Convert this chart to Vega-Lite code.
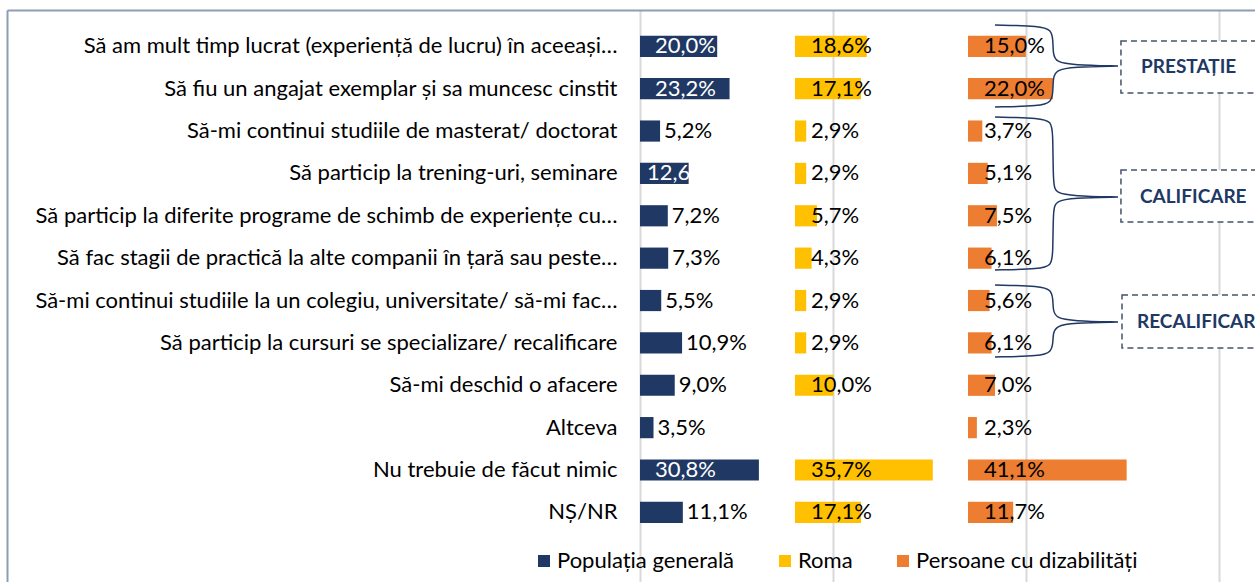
{
  "$schema": "https://vega.github.io/schema/vega-lite/v6.json",
  "width": 1248,
  "height": 519,
  "padding": {"left": 7, "top": 26, "right": 0, "bottom": 37},
  "autosize": {"type": "none"},
  "background": "white",
  "config": {
    "view": {"stroke": null},
    "text": {"font": "Lato"},
    "axis": {"labelFont": "Lato"},
    "legend": {"labelFont": "Lato"}
  },
  "datasets": {
    "main": [
      {"cat": "Să am mult timp lucrat (experiență de lucru) în aceeași…", "grp": "Populația generală", "v": 20.0, "lab": "20,0%"},
      {"cat": "Să am mult timp lucrat (experiență de lucru) în aceeași…", "grp": "Roma", "v": 18.6, "lab": "18,6%"},
      {"cat": "Să am mult timp lucrat (experiență de lucru) în aceeași…", "grp": "Persoane cu dizabilități", "v": 15.0, "lab": "15,0%"},
      {"cat": "Să fiu un angajat exemplar și sa muncesc cinstit", "grp": "Populația generală", "v": 23.2, "lab": "23,2%"},
      {"cat": "Să fiu un angajat exemplar și sa muncesc cinstit", "grp": "Roma", "v": 17.1, "lab": "17,1%"},
      {"cat": "Să fiu un angajat exemplar și sa muncesc cinstit", "grp": "Persoane cu dizabilități", "v": 22.0, "lab": "22,0%"},
      {"cat": "Să-mi continui studiile de masterat/ doctorat", "grp": "Populația generală", "v": 5.2, "lab": "5,2%"},
      {"cat": "Să-mi continui studiile de masterat/ doctorat", "grp": "Roma", "v": 2.9, "lab": "2,9%"},
      {"cat": "Să-mi continui studiile de masterat/ doctorat", "grp": "Persoane cu dizabilități", "v": 3.7, "lab": "3,7%"},
      {"cat": "Să particip la trening-uri, seminare", "grp": "Populația generală", "v": 12.6, "lab": "12,6"},
      {"cat": "Să particip la trening-uri, seminare", "grp": "Roma", "v": 2.9, "lab": "2,9%"},
      {"cat": "Să particip la trening-uri, seminare", "grp": "Persoane cu dizabilități", "v": 5.1, "lab": "5,1%"},
      {"cat": "Să particip la diferite programe de schimb de experiențe cu…", "grp": "Populația generală", "v": 7.2, "lab": "7,2%"},
      {"cat": "Să particip la diferite programe de schimb de experiențe cu…", "grp": "Roma", "v": 5.7, "lab": "5,7%"},
      {"cat": "Să particip la diferite programe de schimb de experiențe cu…", "grp": "Persoane cu dizabilități", "v": 7.5, "lab": "7,5%"},
      {"cat": "Să fac stagii de practică la alte companii în țară sau peste…", "grp": "Populația generală", "v": 7.3, "lab": "7,3%"},
      {"cat": "Să fac stagii de practică la alte companii în țară sau peste…", "grp": "Roma", "v": 4.3, "lab": "4,3%"},
      {"cat": "Să fac stagii de practică la alte companii în țară sau peste…", "grp": "Persoane cu dizabilități", "v": 6.1, "lab": "6,1%"},
      {"cat": "Să-mi continui studiile la un colegiu, universitate/ să-mi fac…", "grp": "Populația generală", "v": 5.5, "lab": "5,5%"},
      {"cat": "Să-mi continui studiile la un colegiu, universitate/ să-mi fac…", "grp": "Roma", "v": 2.9, "lab": "2,9%"},
      {"cat": "Să-mi continui studiile la un colegiu, universitate/ să-mi fac…", "grp": "Persoane cu dizabilități", "v": 5.6, "lab": "5,6%"},
      {"cat": "Să particip la cursuri se specializare/ recalificare", "grp": "Populația generală", "v": 10.9, "lab": "10,9%"},
      {"cat": "Să particip la cursuri se specializare/ recalificare", "grp": "Roma", "v": 2.9, "lab": "2,9%"},
      {"cat": "Să particip la cursuri se specializare/ recalificare", "grp": "Persoane cu dizabilități", "v": 6.1, "lab": "6,1%"},
      {"cat": "Să-mi deschid o afacere", "grp": "Populația generală", "v": 9.0, "lab": "9,0%"},
      {"cat": "Să-mi deschid o afacere", "grp": "Roma", "v": 10.0, "lab": "10,0%"},
      {"cat": "Să-mi deschid o afacere", "grp": "Persoane cu dizabilități", "v": 7.0, "lab": "7,0%"},
      {"cat": "Altceva", "grp": "Populația generală", "v": 3.5, "lab": "3,5%"},
      {"cat": "Altceva", "grp": "Persoane cu dizabilități", "v": 2.3, "lab": "2,3%"},
      {"cat": "Nu trebuie de făcut nimic", "grp": "Populația generală", "v": 30.8, "lab": "30,8%"},
      {"cat": "Nu trebuie de făcut nimic", "grp": "Roma", "v": 35.7, "lab": "35,7%"},
      {"cat": "Nu trebuie de făcut nimic", "grp": "Persoane cu dizabilități", "v": 41.1, "lab": "41,1%"},
      {"cat": "NȘ/NR", "grp": "Populația generală", "v": 11.1, "lab": "11,1%"},
      {"cat": "NȘ/NR", "grp": "Roma", "v": 17.1, "lab": "17,1%"},
      {"cat": "NȘ/NR", "grp": "Persoane cu dizabilități", "v": 11.7, "lab": "11,7%"}
    ],
    "braces": [
      {"b": 1, "i": 1, "x": 91.97, "y": -0.536},
      {"b": 1, "i": 2, "x": 103.89, "y": -0.512},
      {"b": 1, "i": 3, "x": 106.48, "y": -0.417},
      {"b": 1, "i": 4, "x": 107.0, "y": -0.202},
      {"b": 1, "i": 5, "x": 107.0, "y": 0.155},
      {"b": 1, "i": 6, "x": 107.77, "y": 0.345},
      {"b": 1, "i": 7, "x": 112.18, "y": 0.417},
      {"b": 1, "i": 8, "x": 123.83, "y": 0.44},
      {"b": 1, "i": 9, "x": 123.83, "y": 0.44},
      {"b": 1, "i": 10, "x": 123.83, "y": 0.44},
      {"b": 1, "i": 11, "x": 112.18, "y": 0.464},
      {"b": 1, "i": 12, "x": 107.77, "y": 0.536},
      {"b": 1, "i": 13, "x": 107.0, "y": 0.726},
      {"b": 1, "i": 14, "x": 107.0, "y": 1.083},
      {"b": 1, "i": 15, "x": 106.48, "y": 1.298},
      {"b": 1, "i": 16, "x": 103.89, "y": 1.393},
      {"b": 1, "i": 17, "x": 91.97, "y": 1.417},
      {"b": 2, "i": 1, "x": 91.97, "y": 1.655},
      {"b": 2, "i": 2, "x": 103.89, "y": 1.679},
      {"b": 2, "i": 3, "x": 106.48, "y": 1.774},
      {"b": 2, "i": 4, "x": 107.0, "y": 1.988},
      {"b": 2, "i": 5, "x": 107.0, "y": 3.274},
      {"b": 2, "i": 6, "x": 107.77, "y": 3.464},
      {"b": 2, "i": 7, "x": 112.18, "y": 3.536},
      {"b": 2, "i": 8, "x": 123.83, "y": 3.56},
      {"b": 2, "i": 9, "x": 123.83, "y": 3.56},
      {"b": 2, "i": 10, "x": 123.83, "y": 3.56},
      {"b": 2, "i": 11, "x": 112.18, "y": 3.583},
      {"b": 2, "i": 12, "x": 107.77, "y": 3.655},
      {"b": 2, "i": 13, "x": 107.0, "y": 3.845},
      {"b": 2, "i": 14, "x": 107.0, "y": 4.964},
      {"b": 2, "i": 15, "x": 106.48, "y": 5.179},
      {"b": 2, "i": 16, "x": 103.89, "y": 5.274},
      {"b": 2, "i": 17, "x": 91.97, "y": 5.298},
      {"b": 3, "i": 1, "x": 91.97, "y": 5.655},
      {"b": 3, "i": 2, "x": 103.89, "y": 5.679},
      {"b": 3, "i": 3, "x": 106.48, "y": 5.774},
      {"b": 3, "i": 4, "x": 107.0, "y": 5.988},
      {"b": 3, "i": 5, "x": 107.0, "y": 6.25},
      {"b": 3, "i": 6, "x": 107.77, "y": 6.44},
      {"b": 3, "i": 7, "x": 112.18, "y": 6.512},
      {"b": 3, "i": 8, "x": 123.83, "y": 6.536},
      {"b": 3, "i": 9, "x": 123.83, "y": 6.536},
      {"b": 3, "i": 10, "x": 123.83, "y": 6.536},
      {"b": 3, "i": 11, "x": 112.18, "y": 6.56},
      {"b": 3, "i": 12, "x": 107.77, "y": 6.631},
      {"b": 3, "i": 13, "x": 107.0, "y": 6.821},
      {"b": 3, "i": 14, "x": 107.0, "y": 7.036},
      {"b": 3, "i": 15, "x": 106.48, "y": 7.25},
      {"b": 3, "i": 16, "x": 103.89, "y": 7.345},
      {"b": 3, "i": 17, "x": 91.97, "y": 7.369}
    ],
    "boxes": [
      {"x1": 124.6, "x2": 170, "y1": -0.155, "y2": 1.083},
      {"x1": 124.6, "x2": 170, "y1": 2.917, "y2": 4.155},
      {"x1": 124.87, "x2": 170, "y1": 5.893, "y2": 7.155}
    ],
    "notes": [
      {"t": "PRESTAȚIE", "x": 129.79, "y": 0.464},
      {"t": "CALIFICARE", "x": 129.53, "y": 3.56},
      {"t": "RECALIFICARE", "x": 128.76, "y": 6.536}
    ]
  },
  "resolve": {"scale": {"x": "independent", "y": "independent"}},
  "layer": [
    {
      "data": {"name": "main"},
      "resolve": {"scale": {"x": "independent"}},
      "encoding": {
        "y": {
          "field": "cat", "type": "nominal",
          "scale": {
            "domain": ["Să am mult timp lucrat (experiență de lucru) în aceeași…", "Să fiu un angajat exemplar și sa muncesc cinstit", "Să-mi continui studiile de masterat/ doctorat", "Să particip la trening-uri, seminare", "Să particip la diferite programe de schimb de experiențe cu…", "Să fac stagii de practică la alte companii în țară sau peste…", "Să-mi continui studiile la un colegiu, universitate/ să-mi fac…", "Să particip la cursuri se specializare/ recalificare", "Să-mi deschid o afacere", "Altceva", "Nu trebuie de făcut nimic", "NȘ/NR"],
            "range": [-16, 556], "paddingInner": 0.5, "paddingOuter": 1.0595, "align": 0.3034
          },
          "axis": {
            "orient": "left", "title": null, "ticks": false, "tickSize": 0, "labelPadding": -610,
            "labelAlign": "right", "labelBaseline": "middle", "labelLimit": 1000,
            "labelFont": "Lato", "labelFontSize": 22, "labelColor": "#000000",
            "domain": true, "domainColor": "#8E9DB3", "domainWidth": 2, "grid": false
          }
        }
      },
      "layer": [
        {
          "transform": [{"filter": {"field": "grp", "equal": "Populația generală"}}],
          "mark": {"type": "bar"},
          "encoding": {
            "x": {"field": "v", "type": "quantitative", "stack": null,
              "scale": {"domain": [-163.99, 159.326], "zero": false, "nice": false},
              "axis": {"orient": "top", "offset": 16, "values": [0, 50, 100, 150], "labels": false, "ticks": false, "title": null,
                "grid": true, "gridColor": "#D9D9D9", "gridWidth": 2, "domain": true, "domainColor": "#8E9DB3", "domainWidth": 2}},
            "x2": {"datum": 0},
            "color": {"field": "grp", "type": "nominal",
              "scale": {"domain": ["Populația generală", "Roma", "Persoane cu dizabilități"], "range": ["#203864", "#FFC000", "#ED7D31"]},
              "legend": {"orient": "none", "legendX": 526, "legendY": 524, "direction": "horizontal", "title": null,
                "symbolType": "square", "symbolSize": 144, "symbolStrokeWidth": 0, "labelFont": "Lato", "labelFontSize": 22,
                "labelColor": "#000000", "columnPadding": 39, "labelOffset": 2, "labelLimit": 400}}
          }
        },
        {
          "transform": [{"filter": {"and": [{"field": "grp", "equal": "Populația generală"}, {"field": "v", "gte": 15}]}}],
          "mark": {"type": "text", "align": "left", "baseline": "middle", "dx": 15, "fill": "#FFFFFF", "fontSize": 22, "font": "Lato"},
          "encoding": {
            "x": {"datum": 0, "type": "quantitative", "scale": {"domain": [-163.99, 159.326], "zero": false, "nice": false}, "axis": null},
            "text": {"field": "lab"}
          }
        },
        {
          "transform": [{"filter": {"and": [{"field": "grp", "equal": "Populația generală"}, {"field": "v", "range": [12, 15]}]}}],
          "mark": {"type": "text", "align": "left", "baseline": "middle", "dx": 7, "fill": "#FFFFFF", "fontSize": 22, "font": "Lato"},
          "encoding": {
            "x": {"datum": 0, "type": "quantitative", "scale": {"domain": [-163.99, 159.326], "zero": false, "nice": false}, "axis": null},
            "text": {"field": "lab"}
          }
        },
        {
          "transform": [{"filter": {"and": [{"field": "grp", "equal": "Populația generală"}, {"field": "v", "lt": 12}]}}],
          "mark": {"type": "text", "align": "left", "baseline": "middle", "dx": 4, "fill": "#000000", "fontSize": 22, "font": "Lato"},
          "encoding": {
            "x": {"field": "v", "type": "quantitative", "scale": {"domain": [-163.99, 159.326], "zero": false, "nice": false}, "axis": null},
            "text": {"field": "lab"}
          }
        },
        {
          "transform": [{"filter": {"field": "grp", "equal": "Roma"}}],
          "mark": {"type": "bar"},
          "encoding": {
            "x": {"field": "v", "type": "quantitative", "stack": null,
              "scale": {"domain": [-204.145, 119.171], "zero": false, "nice": false}, "axis": null},
            "x2": {"datum": 0},
            "color": {"field": "grp", "type": "nominal",
              "scale": {"domain": ["Populația generală", "Roma", "Persoane cu dizabilități"], "range": ["#203864", "#FFC000", "#ED7D31"]},
              "legend": {"orient": "none", "legendX": 526, "legendY": 524, "direction": "horizontal", "title": null,
                "symbolType": "square", "symbolSize": 144, "symbolStrokeWidth": 0, "labelFont": "Lato", "labelFontSize": 22,
                "labelColor": "#000000", "columnPadding": 39, "labelOffset": 2, "labelLimit": 400}}
          }
        },
        {
          "transform": [{"filter": {"field": "grp", "equal": "Roma"}}],
          "mark": {"type": "text", "align": "left", "baseline": "middle", "dx": 16, "fill": "#000000", "fontSize": 22, "font": "Lato"},
          "encoding": {
            "x": {"datum": 0, "type": "quantitative", "scale": {"domain": [-204.145, 119.171], "zero": false, "nice": false}, "axis": null},
            "text": {"field": "lab"}
          }
        },
        {
          "transform": [{"filter": {"field": "grp", "equal": "Persoane cu dizabilități"}}],
          "mark": {"type": "bar"},
          "encoding": {
            "x": {"field": "v", "type": "quantitative", "stack": null,
              "scale": {"domain": [-248.964, 74.352], "zero": false, "nice": false}, "axis": null},
            "x2": {"datum": 0},
            "color": {"field": "grp", "type": "nominal",
              "scale": {"domain": ["Populația generală", "Roma", "Persoane cu dizabilități"], "range": ["#203864", "#FFC000", "#ED7D31"]},
              "legend": {"orient": "none", "legendX": 526, "legendY": 524, "direction": "horizontal", "title": null,
                "symbolType": "square", "symbolSize": 144, "symbolStrokeWidth": 0, "labelFont": "Lato", "labelFontSize": 22,
                "labelColor": "#000000", "columnPadding": 39, "labelOffset": 2, "labelLimit": 400}}
          }
        },
        {
          "transform": [{"filter": {"field": "grp", "equal": "Persoane cu dizabilități"}}],
          "mark": {"type": "text", "align": "left", "baseline": "middle", "dx": 16, "fill": "#000000", "fontSize": 22, "font": "Lato"},
          "encoding": {
            "x": {"datum": 0, "type": "quantitative", "scale": {"domain": [-248.964, 74.352], "zero": false, "nice": false}, "axis": null},
            "text": {"field": "lab"}
          }
        }
      ]
    },
    {
      "layer": [
        {
          "data": {"name": "boxes"},
          "mark": {"type": "rect", "fill": "#FFFFFF", "stroke": "#44546A", "strokeWidth": 1.5, "strokeDash": [6, 4]},
          "encoding": {
            "x": {"field": "x1", "type": "quantitative", "scale": {"domain": [-163.99, 159.326], "zero": false, "nice": false}, "axis": null},
            "x2": {"field": "x2"},
            "y": {"field": "y1", "type": "quantitative", "scale": {"domain": [-0.5119, 11.8452], "zero": false, "nice": false, "reverse": true}, "axis": null},
            "y2": {"field": "y2"}
          }
        },
        {
          "data": {"name": "braces"},
          "mark": {"type": "line", "interpolate": "basis", "stroke": "#203864", "strokeWidth": 1.5},
          "encoding": {
            "x": {"field": "x", "type": "quantitative", "scale": {"domain": [-163.99, 159.326], "zero": false, "nice": false}, "axis": null},
            "y": {"field": "y", "type": "quantitative", "scale": {"domain": [-0.5119, 11.8452], "zero": false, "nice": false, "reverse": true}, "axis": null},
            "detail": {"field": "b", "type": "nominal"},
            "order": {"field": "i", "type": "quantitative"}
          }
        },
        {
          "data": {"name": "notes"},
          "mark": {"type": "text", "align": "left", "baseline": "middle", "font": "Lato", "fontWeight": "bold", "fontSize": 19, "fill": "#203864"},
          "encoding": {
            "x": {"field": "x", "type": "quantitative", "scale": {"domain": [-163.99, 159.326], "zero": false, "nice": false}, "axis": null},
            "y": {"field": "y", "type": "quantitative", "scale": {"domain": [-0.5119, 11.8452], "zero": false, "nice": false, "reverse": true}, "axis": null},
            "text": {"field": "t"}
          }
        }
      ]
    }
  ]
}
